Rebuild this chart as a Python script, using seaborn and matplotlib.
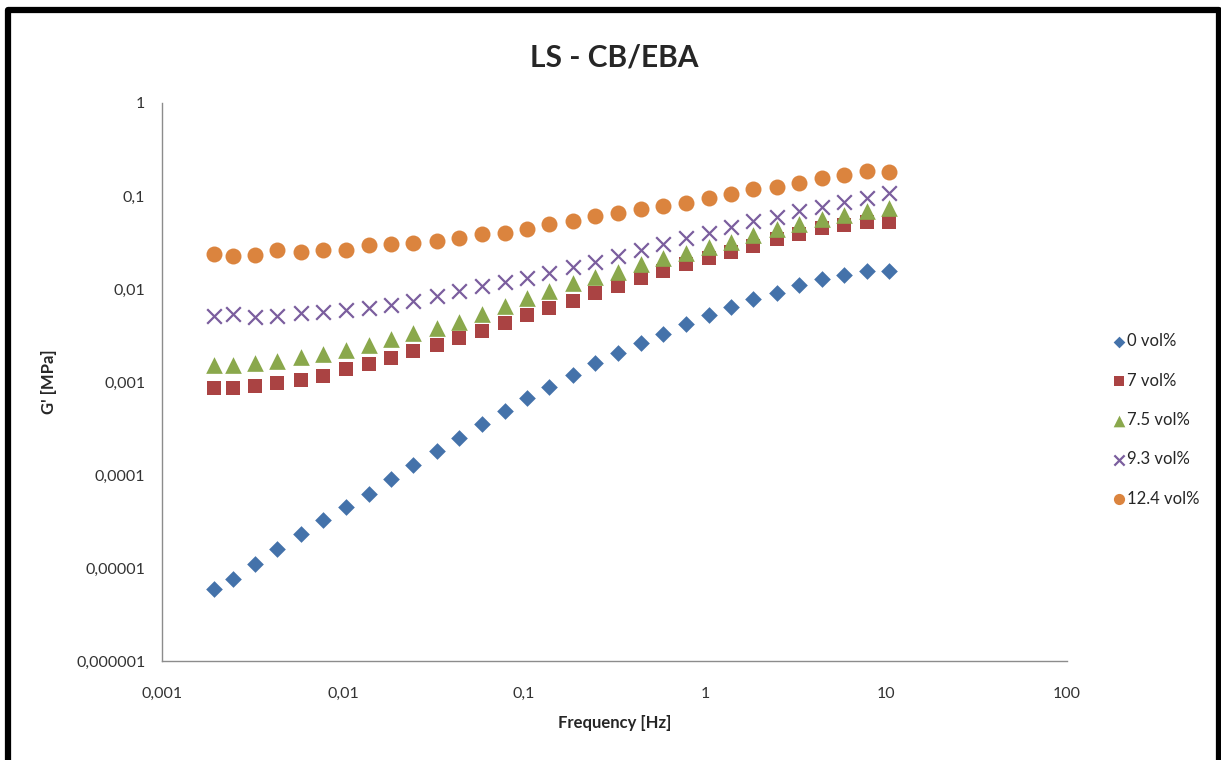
import numpy as np
import pandas as pd
import matplotlib
matplotlib.use("Agg")
import matplotlib.pyplot as plt
import matplotlib.ticker as mticker
from matplotlib.patches import Rectangle
import seaborn as sns

# Frequency sweep [Hz]
freq = [0.00195, 0.00246, 0.00327, 0.00434, 0.00584, 0.00776, 0.01035, 0.01387,
        0.0184, 0.0245, 0.0329, 0.0438, 0.0584, 0.0782, 0.104, 0.138, 0.186,
        0.248, 0.330, 0.441, 0.589, 0.782, 1.047, 1.39, 1.85, 2.49, 3.32, 4.41,
        5.89, 7.82, 10.4]

# G' [MPa] per filler content
g_0 = [5.94e-6, 7.62e-6, 1.10e-5, 1.60e-5, 2.32e-5, 3.28e-5, 4.53e-5, 6.25e-5,
       9.06e-5, 1.28e-4, 1.81e-4, 2.50e-4, 3.53e-4, 4.88e-4, 6.73e-4, 8.83e-4,
       1.19e-3, 1.60e-3, 2.05e-3, 2.62e-3, 3.28e-3, 4.21e-3, 5.25e-3, 6.40e-3,
       7.80e-3, 9.06e-3, 1.10e-2, 1.28e-2, 1.42e-2, 1.56e-2, 1.58e-2]
g_7 = [8.62e-4, 8.62e-4, 9.06e-4, 9.76e-4, 1.05e-3, 1.16e-3, 1.38e-3, 1.56e-3,
       1.81e-3, 2.15e-3, 2.50e-3, 2.97e-3, 3.53e-3, 4.31e-3, 5.25e-3, 6.25e-3,
       7.43e-3, 9.06e-3, 1.08e-2, 1.31e-2, 1.56e-2, 1.86e-2, 2.15e-2, 2.50e-2,
       2.90e-2, 3.45e-2, 3.90e-2, 4.53e-2, 4.88e-2, 5.25e-2, 5.25e-2]
g_75 = [1.52e-3, 1.52e-3, 1.60e-3, 1.68e-3, 1.86e-3, 2.00e-3, 2.21e-3, 2.50e-3,
        2.90e-3, 3.36e-3, 3.81e-3, 4.42e-3, 5.38e-3, 6.56e-3, 8.00e-3, 9.51e-3,
        1.16e-2, 1.35e-2, 1.52e-2, 1.86e-2, 2.15e-2, 2.44e-2, 2.83e-2, 3.20e-2,
        3.81e-2, 4.42e-2, 5.00e-2, 5.66e-2, 6.25e-2, 6.90e-2, 7.43e-2]
g_93 = [5.13e-3, 5.38e-3, 5.00e-3, 5.13e-3, 5.52e-3, 5.66e-3, 5.95e-3, 6.25e-3,
        6.73e-3, 7.43e-3, 8.41e-3, 9.51e-3, 1.08e-2, 1.19e-2, 1.31e-2, 1.49e-2,
        1.72e-2, 1.95e-2, 2.26e-2, 2.62e-2, 3.05e-2, 3.53e-2, 4.00e-2, 4.64e-2,
        5.38e-2, 5.95e-2, 6.90e-2, 7.62e-2, 8.62e-2, 9.51e-2, 1.08e-1]
g_124 = [2.38e-2, 2.26e-2, 2.32e-2, 2.62e-2, 2.50e-2, 2.62e-2, 2.62e-2, 2.97e-2,
         3.05e-2, 3.13e-2, 3.28e-2, 3.53e-2, 3.90e-2, 4.00e-2, 4.42e-2, 5.00e-2,
         5.38e-2, 6.09e-2, 6.56e-2, 7.25e-2, 7.80e-2, 8.41e-2, 9.51e-2, 1.05e-1,
         1.19e-1, 1.25e-1, 1.38e-1, 1.56e-1, 1.68e-1, 1.86e-1, 1.81e-1]

labels = ["0 vol%", "7 vol%", "7.5 vol%", "9.3 vol%", "12.4 vol%"]
series = [g_0, g_7, g_75, g_93, g_124]

x_ticks = [0.001, 0.01, 0.1, 1, 10, 100]
y_ticks = [1e-6, 1e-5, 1e-4, 1e-3, 1e-2, 1e-1, 1]

sns.set_style("white")
plt.rcParams["font.family"] = ["Lato", "DejaVu Sans"]

styles = {
    "0 vol%":    dict(marker="D", color="#4472AA", s=8.5 ** 2, linewidth=0),
    "7 vol%":    dict(marker="s", color="#AA4343", s=10.5 ** 2, linewidth=0),
    "7.5 vol%":  dict(marker="^", color="#8AA84C", s=12 ** 2, linewidth=0),
    "9.3 vol%":  dict(marker="x", color="#7B5E9E", s=10.5 ** 2, linewidth=1.6),
    "12.4 vol%": dict(marker="o", color="#DB843E", s=11.5 ** 2, linewidth=0),
}

fig = plt.figure(figsize=(12.21, 7.6), dpi=100)
ax = fig.add_axes([162 / 1221, 1 - 661 / 760, (1067 - 162) / 1221, (661 - 103) / 760])

for lab, g in zip(labels, series):
    df = pd.DataFrame({"Frequency": freq, "G": g})
    sns.scatterplot(data=df, x="Frequency", y="G", ax=ax, label=lab, **styles[lab])

ax.set_xscale("log")
ax.set_yscale("log")
ax.set_xlim(0.001, 100)
ax.set_ylim(1e-6, 1)


def comma_fmt(v, pos):
    s = np.format_float_positional(v, trim="-")
    return s.replace(".", ",")


ax.xaxis.set_major_locator(mticker.FixedLocator(x_ticks))
ax.yaxis.set_major_locator(mticker.FixedLocator(y_ticks))
ax.xaxis.set_minor_locator(mticker.NullLocator())
ax.yaxis.set_minor_locator(mticker.NullLocator())
ax.xaxis.set_major_formatter(mticker.FuncFormatter(comma_fmt))
ax.yaxis.set_major_formatter(mticker.FuncFormatter(comma_fmt))

for side in ["top", "right"]:
    ax.spines[side].set_visible(False)
for side in ["left", "bottom"]:
    ax.spines[side].set_color("#8C8C8C")
    ax.spines[side].set_linewidth(1.0)
ax.tick_params(axis="both", which="major", direction="out", length=6, width=1,
               color="#8C8C8C", labelsize=11.5, labelcolor="#333333")
ax.tick_params(axis="x", pad=13)
ax.tick_params(axis="y", pad=6)

ax.set_xlabel("Frequency [Hz]", fontsize=12, fontweight="bold", labelpad=10)
ax.set_ylabel("G' [MPa]", fontsize=12, fontweight="bold", labelpad=14)
fig.text(614 / 1221, 1 - 57 / 760, "LS - CB/EBA", ha="center", va="center",
         fontsize=21.5, fontweight="bold")

ax.legend_.remove()
handles, lbls = ax.get_legend_handles_labels()
fig.legend(handles, lbls, loc="center left", bbox_to_anchor=(1097 / 1221, 1 - 420 / 760),
           frameon=False, fontsize=12, markerscale=0.7, labelspacing=1.4,
           handletextpad=0.1, handlelength=0.8)

# outer chart border
fig.patches.append(Rectangle((8 / 1221, -0.05), (1218.5 - 8) / 1221, 1.05 - 10.5 / 760,
                             transform=fig.transFigure, fill=False,
                             edgecolor="black", linewidth=4.5, joinstyle="round"))

fig.savefig("out.png", dpi=100)
